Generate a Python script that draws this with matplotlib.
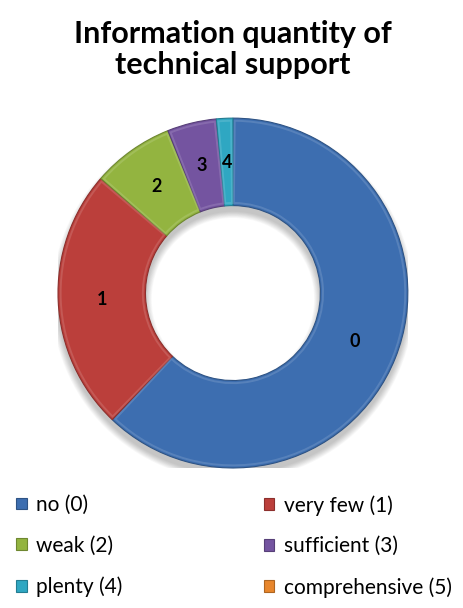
import matplotlib
matplotlib.use("Agg")
import matplotlib.pyplot as plt
import matplotlib.colors as mcolors
from matplotlib.patches import Wedge
import numpy as np

# Survey answers: information quantity of technical support
categories = ["no (0)", "very few (1)", "weak (2)", "sufficient (3)", "plenty (4)", "comprehensive (5)"]
short_labels = ["0", "1", "2", "3", "4", "5"]
counts = [41, 16, 5, 3, 1, 0]
colors = ["#3d6eb0", "#bb3f3b", "#93b440", "#7454a0", "#2fa7c2", "#e8862c"]

plt.rcParams["font.family"] = ["Lato", "DejaVu Sans"]


def shade(c, f):
    r, g, b = mcolors.to_rgb(c)
    if f < 1:
        return (r * f, g * f, b * f)
    t = f - 1
    return (r + (1 - r) * t, g + (1 - g) * t, b + (1 - b) * t)


fig = plt.figure(figsize=(4.64, 6.08), dpi=100)
ax = fig.add_axes([0.125, 0.230, 0.754, 0.576])

# soft drop shadow under the ring
for k in range(10):
    ax.add_patch(Wedge((0, -0.035), 1.0 + 0.004 * k, 0, 360, width=0.5 + 0.008 * k,
                       facecolor="#000000", alpha=0.025, edgecolor="none", zorder=0))

wedges, _ = ax.pie(counts, startangle=90, counterclock=False, colors=colors,
                   radius=1.0,
                   wedgeprops=dict(width=0.5, linewidth=0.8))
for w, c, n in zip(wedges, colors, counts):
    w.set_edgecolor(shade(c, 0.75))
    w.set_zorder(2)
    if n == 0:
        # empty category: keep the patch for the legend but draw nothing on the ring
        w.set_visible(False)
        continue
    # bevel highlight inset along the slice border
    ax.add_patch(Wedge((0, 0), 0.985, w.theta1 + 0.6, w.theta2 - 0.6, width=0.47,
                       facecolor="none", edgecolor=shade(c, 1.3), linewidth=1.4,
                       alpha=0.45, zorder=3))

ax.set_xlim(-1, 1)
ax.set_ylim(-1, 1)
ax.set_aspect("equal")
ax.axis("off")

# slice numbers at the middle of each ring segment
for w, lab, c in zip(wedges, short_labels, counts):
    if c == 0:
        continue
    ang = np.deg2rad((w.theta1 + w.theta2) / 2)
    r = 0.75
    ax.text(r * np.cos(ang), r * np.sin(ang), lab, ha="center", va="center",
            fontsize=13, fontweight="bold", color="black", zorder=5)

fig.text(0.502, 0.918, "Information quantity of\ntechnical support", ha="center", va="center",
         fontsize=22, fontweight="bold", linespacing=1.12)

legend_kw = dict(loc="upper left", frameon=False, fontsize=15, handlelength=0.5,
                 handleheight=0.5, handletextpad=0.45, labelspacing=1.0,
                 borderpad=0, borderaxespad=0)
left_idx = [0, 2, 4]
right_idx = [1, 3, 5]
leg1 = fig.legend([wedges[i] for i in left_idx], [categories[i] for i in left_idx],
                  bbox_to_anchor=(0.035, 0.186), **legend_kw)
leg2 = fig.legend([wedges[i] for i in right_idx], [categories[i] for i in right_idx],
                  bbox_to_anchor=(0.569, 0.186), **legend_kw)
# legend swatches always shown, including the empty category
for leg in (leg1, leg2):
    for h in leg.legend_handles:
        h.set_visible(True)

fig.savefig("out.png", dpi=100)
